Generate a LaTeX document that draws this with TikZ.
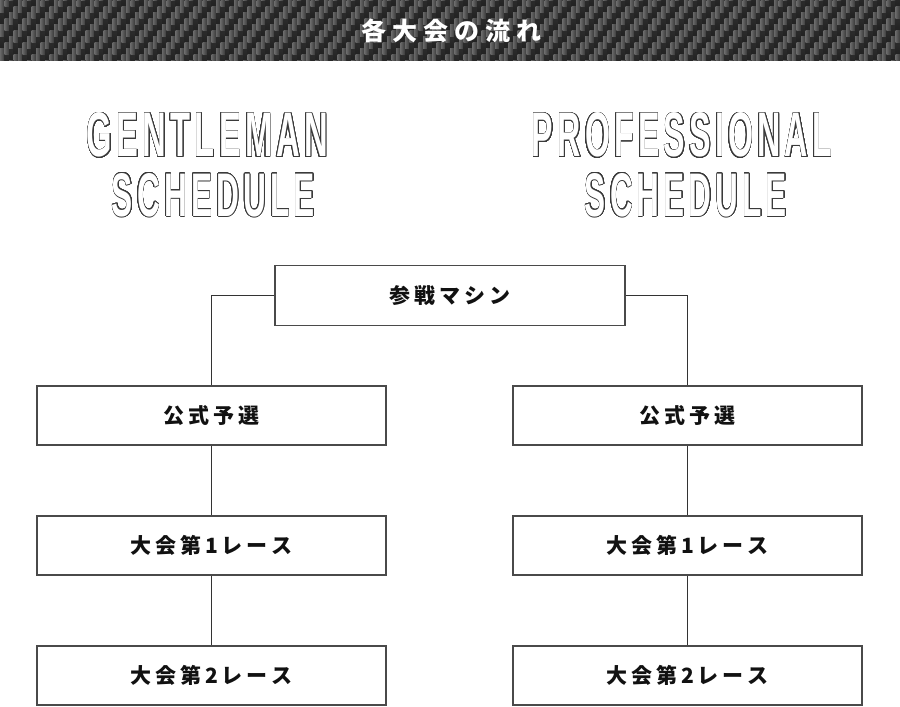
\documentclass[tikz,border=0pt]{standalone}
\usepackage{fontspec}
\usepackage{contour}
\newfontfamily\jp{Noto Sans CJK JP}
\newfontfamily\ttl{Liberation Sans}
\definecolor{cfbase}{HTML}{222222}
\definecolor{cfbarl}{HTML}{686868}
\definecolor{cfbard}{HTML}{383838}
\definecolor{cfweft}{HTML}{2C2C2C}
\definecolor{boxc}{HTML}{4A4A4A}
\definecolor{linec}{HTML}{333333}
\definecolor{olc}{HTML}{3A3A3A}
\definecolor{txtc}{HTML}{111111}
\contourlength{0.6pt}
\contournumber{32}
\newcommand{\olt}[3]{{\color{white}\contour{olc}{\resizebox{#1pt}{#2pt}{\ttl\bfseries #3}}}}
\newcommand{\ls}{\kern1.3pt }
\begin{document}
\begin{tikzpicture}[x=1pt,y=-1pt,
  box/.style={draw=boxc, line width=1.1pt, fill=white, minimum width=349pt, minimum height=59pt, inner sep=0pt,
    text=txtc, font=\jp\bfseries\fontsize{21}{21}\selectfont},
  conn/.style={draw=linec, line width=0.9pt}]
\useasboundingbox (0,0) rectangle (900,707);
\fill[white] (0,0) rectangle (900,707);
% carbon header
\fill[cfbase] (0,0) rectangle (900,60.5);
\begin{scope}
\clip (0,0) rectangle (900,60.5);
\foreach \i in {0,...,200}{
  \pgfmathsetmacro{\xo}{4.5*\i}
  \pgfmathsetmacro{\yo}{mod(6*\i,24)}
  \foreach \k in {-1,...,3}{
    \fill[top color=cfweft, bottom color=cfbase] (\xo,24*\k-\yo+12) rectangle ++(4.5,12);
    \fill[left color=cfbarl, right color=cfbard] (\xo,24*\k-\yo) rectangle ++(4.5,12);
  }
}
\end{scope}
\node[text=white, font=\jp\bfseries\fontsize{25}{25}\selectfont] (title) at (451,31)
  {各\kern6pt 大\kern6pt 会\kern6pt の\kern6pt 流\kern6pt れ};
% outline titles
\node[inner sep=0pt] (gen1) at (207.5,135.5) {\olt{241}{44}{G\ls E\ls N\ls T\ls L\ls E\ls M\ls A\ls N}};
\node[inner sep=0pt] (gen2) at (213.5,195.5) {\olt{203}{43}{S\ls C\ls H\ls E\ls D\ls U\ls L\ls E}};
\node[inner sep=0pt] (pro1) at (682,135.5) {\olt{300}{44}{P\ls R\ls O\ls F\ls E\ls S\ls S\ls I\ls O\ls N\ls A\ls L}};
\node[inner sep=0pt] (pro2) at (686,195.5) {\olt{202}{43}{S\ls C\ls H\ls E\ls D\ls U\ls L\ls E}};
% boxes
\node[box, minimum width=350pt, minimum height=60pt] (top) at (450,295.5)
  {参\kern4pt 戦\kern4pt マ\kern4pt シ\kern4pt ン};
\node[box] (g1) at (211.5,415.5) {公\kern4pt 式\kern4pt 予\kern4pt 選};
\node[box] (g2) at (211.5,545.5) {大\kern4pt 会\kern4pt 第\kern4pt 1\kern4pt レ\kern4pt ー\kern4pt ス};
\node[box] (g3) at (211.5,675.5) {大\kern4pt 会\kern4pt 第\kern4pt 2\kern4pt レ\kern4pt ー\kern4pt ス};
\node[box] (p1) at (687.5,415.5) {公\kern4pt 式\kern4pt 予\kern4pt 選};
\node[box] (p2) at (687.5,545.5) {大\kern4pt 会\kern4pt 第\kern4pt 1\kern4pt レ\kern4pt ー\kern4pt ス};
\node[box] (p3) at (687.5,675.5) {大\kern4pt 会\kern4pt 第\kern4pt 2\kern4pt レ\kern4pt ー\kern4pt ス};
% connectors
\draw[conn] (top.west) -| (g1.north);
\draw[conn] (top.east) -| (p1.north);
\draw[conn] (g1.south) -- (g2.north);
\draw[conn] (g2.south) -- (g3.north);
\draw[conn] (p1.south) -- (p2.north);
\draw[conn] (p2.south) -- (p3.north);
\end{tikzpicture}
\end{document}
